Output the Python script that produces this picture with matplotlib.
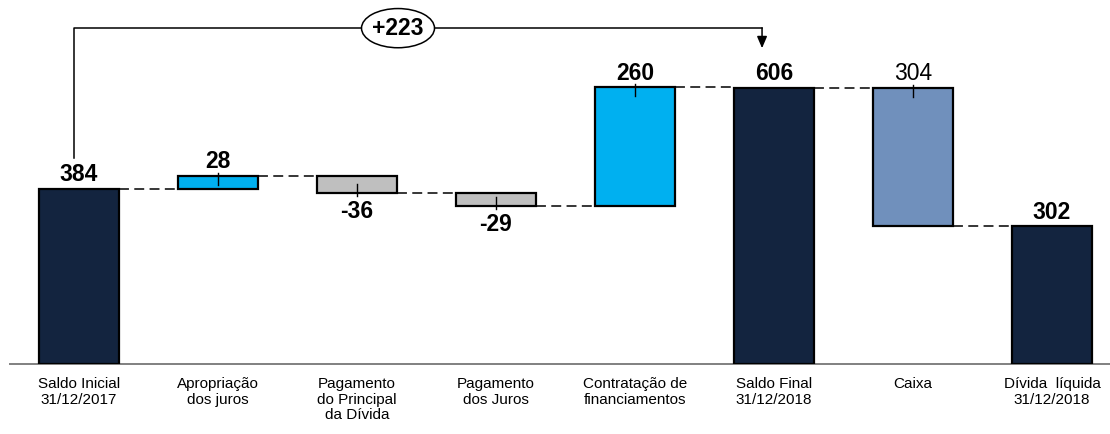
import numpy as np
import matplotlib
matplotlib.use("Agg")
import matplotlib.pyplot as plt
from matplotlib.patches import Ellipse

# data
categories = ["Saldo Inicial\n31/12/2017", "Apropriação\ndos juros", "Pagamento\ndo Principal\nda Dívida",
              "Pagamento\ndos Juros", "Contratação de\nfinanciamentos", "Saldo Final\n31/12/2018",
              "Caixa", "Dívida  líquida\n31/12/2018"]
values = [384, 28, -36, -29, 260, 606, -304, 302]
kinds = ["total", "delta", "delta", "delta", "delta", "total", "delta", "total"]
value_labels = ["384", "28", "-36", "-29", "260", "606", "304", "302"]
variation_label = "+223"

colors = ["#13243F", "#00B0F0", "#BFBFBF", "#BFBFBF", "#00B0F0", "#13243F", "#7090BC", "#13243F"]
label_bold = [True, True, True, True, True, True, False, True]
label_side = ["top", "top", "bottom", "bottom", "top", "top", "top", "top"]

plt.rcParams['font.family'] = ['Liberation Sans', 'DejaVu Sans']

fig = plt.figure(figsize=(11.1, 4.34), dpi=100)
ax = fig.add_axes([0, 70 / 434, 1, 364 / 434])

px = 1 / 0.4557  # data units per pixel (vertical)
x = np.arange(len(values))
width = 0.57

# bottoms / tops for the waterfall
bottoms, tops = [], []
level = 0
for v, k in zip(values, kinds):
    if k == "total":
        b, t = 0, v
        level = v
    else:
        new = level + v
        b, t = min(level, new), max(level, new)
        level = new
    bottoms.append(b)
    tops.append(t)
bottoms = np.array(bottoms)
tops = np.array(tops)

ax.bar(x, tops - bottoms, bottom=bottoms, width=width, color=colors,
       edgecolor="black", linewidth=1.6, zorder=3)

# dashed connectors between bars
levels_after = []
level = 0
for v, k in zip(values, kinds):
    level = v if k == "total" else level + v
    levels_after.append(level)
for i in range(len(values) - 1):
    y = levels_after[i]
    ax.plot([x[i] + width / 2, x[i + 1] - width / 2], [y, y], color="black",
            lw=1.1, dashes=(6.5, 3.5), zorder=2)

# value labels and little ticks
for i in range(len(values)):
    weight = "bold" if label_bold[i] else "normal"
    if label_side[i] == "top":
        ax.annotate(value_labels[i], (x[i], tops[i]), xytext=(0, 2), textcoords="offset points",
                    ha="center", va="bottom", fontsize=16.5, fontweight=weight, zorder=5)
        edge, sgn = tops[i], 1
    else:
        ax.annotate(value_labels[i], (x[i], bottoms[i]), xytext=(0, -5), textcoords="offset points",
                    ha="center", va="top", fontsize=16.5, fontweight=weight, zorder=5)
        edge, sgn = bottoms[i], -1
    if kinds[i] == "delta":
        ax.plot([x[i], x[i]], [edge + sgn * 3 * px, edge - sgn * 9 * px], color="black",
                lw=1.0, zorder=4)

# bracket with variation between initial and final balance
y_br = 737
x_l, x_r = -0.036, 4.914
ax.plot([x_l, x_l, x_r], [tops[0] + 31 * px, y_br, y_br], color="black", lw=1.1, zorder=2)
ax.annotate("", xy=(x_r, 693), xytext=(x_r, y_br + 0.5),
            arrowprops=dict(arrowstyle="-|>,head_length=0.7,head_width=0.3", color="black",
                            lw=1.1, shrinkA=0, shrinkB=0), zorder=2)
ax.add_patch(Ellipse((2.295, y_br), 0.525, 86, facecolor="white", edgecolor="black",
                     lw=1.1, zorder=3))
ax.text(2.295, y_br, variation_label, ha="center", va="center", fontsize=16.5,
        fontweight="bold", zorder=4)

# axis line and category labels
ax.plot([-0.5, 7.45], [0, 0], color="#808080", lw=1.4, zorder=1, clip_on=False)
for i, c in enumerate(categories):
    ax.text(x[i], -13 * px, c, ha="center", va="top", fontsize=11,
            linespacing=1.15)

ax.set_xlim(-79 / 139, (1110 - 79) / 139)
ax.set_ylim(0, 364 * px)
ax.axis("off")

fig.savefig("out.png", dpi=100)
